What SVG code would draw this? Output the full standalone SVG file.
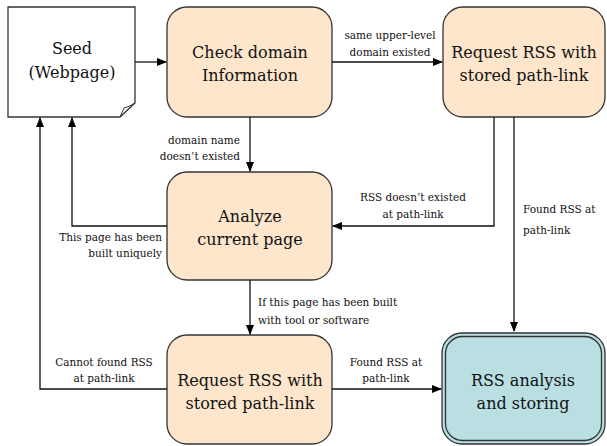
<svg xmlns="http://www.w3.org/2000/svg" width="607" height="446" viewBox="0 0 607 446">
<defs>
<marker id="ah" markerWidth="10" markerHeight="8" refX="9" refY="4" orient="auto" markerUnits="userSpaceOnUse">
<path d="M0,0 L10,4 L0,8 Z" fill="#000"/>
</marker>
<style>
.box{fill:#fde6cc;stroke:#333;stroke-width:1.3}
.big{font-family:'DejaVu Serif','Liberation Serif',serif;font-size:16px;fill:#111;text-anchor:middle}
.lbl{font-family:'DejaVu Serif','Liberation Serif',serif;font-size:10.5px;fill:#111}
.c{stroke:#111;stroke-width:1.3;fill:none;marker-end:url(#ah)}
</style>
</defs>
<rect width="607" height="446" fill="#fff"/>
<g id="seed">
<path d="M8,7 H135 V103 L120,117 H8 Z" fill="#fff" stroke="#333" stroke-width="1.3"/>
<path d="M120,117 L124,108 Q129,107 135,103" fill="none" stroke="#333" stroke-width="1"/>
<text class="big" x="72" y="54">Seed</text>
<text class="big" x="72" y="78">(Webpage)</text>
</g>
<g id="check">
<rect class="box" x="167" y="7" width="165" height="110" rx="20"/>
<text class="big" x="250" y="58">Check domain</text>
<text class="big" x="250" y="81">Information</text>
</g>
<g id="request1">
<rect class="box" x="443" y="7" width="162" height="110" rx="20"/>
<text class="big" x="524" y="58">Request RSS with</text>
<text class="big" x="524" y="81">stored path-link</text>
</g>
<g id="analyze">
<rect class="box" x="167" y="172" width="165" height="108" rx="20"/>
<text class="big" x="250" y="222">Analyze</text>
<text class="big" x="250" y="245">current page</text>
</g>
<g id="request2">
<rect class="box" x="167" y="335" width="165" height="109" rx="20"/>
<text class="big" x="250" y="386">Request RSS with</text>
<text class="big" x="250" y="409">stored path-link</text>
</g>
<g id="rss">
<rect x="442" y="333" width="163" height="111" rx="20" fill="#b9dfe3" stroke="#333" stroke-width="1.3"/>
<rect x="445.5" y="336.5" width="156" height="104" rx="17" fill="none" stroke="#333" stroke-width="1.3"/>
<text class="big" x="523" y="386">RSS analysis</text>
<text class="big" x="523" y="409">and storing</text>
</g>
<g id="connectors">
<path class="c" d="M135,62 H166"/>
<path class="c" d="M332,62 H442"/>
<path class="c" d="M250,117 V171"/>
<path class="c" d="M494,117 V226 H333"/>
<path class="c" d="M514,117 V331"/>
<path class="c" d="M167,226 H72 V118"/>
<path class="c" d="M250,280 V334"/>
<path class="c" d="M167,389 H40 V118"/>
<path class="c" d="M332,389 H441"/>
</g>
<g id="labels">
<text class="lbl" x="390" y="39" text-anchor="middle">same upper-level</text>
<text class="lbl" x="390" y="56" text-anchor="middle">domain existed</text>
<text class="lbl" x="240" y="144" text-anchor="end">domain name</text>
<text class="lbl" x="240" y="160" text-anchor="end">doesn’t existed</text>
<text class="lbl" x="413" y="201" text-anchor="middle">RSS doesn’t existed</text>
<text class="lbl" x="413" y="218" text-anchor="middle">at path-link</text>
<text class="lbl" x="523" y="213">Found RSS at</text>
<text class="lbl" x="523" y="234">path-link</text>
<text class="lbl" x="162" y="241" text-anchor="end">This page has been</text>
<text class="lbl" x="162" y="257" text-anchor="end">built uniquely</text>
<text class="lbl" x="258" y="306">If this page has been built</text>
<text class="lbl" x="258" y="324">with tool or software</text>
<text class="lbl" x="104" y="366" text-anchor="middle">Cannot found RSS</text>
<text class="lbl" x="104" y="382" text-anchor="middle">at path-link</text>
<text class="lbl" x="386" y="366" text-anchor="middle">Found RSS at</text>
<text class="lbl" x="386" y="382" text-anchor="middle">path-link</text>
</g>
</svg>
